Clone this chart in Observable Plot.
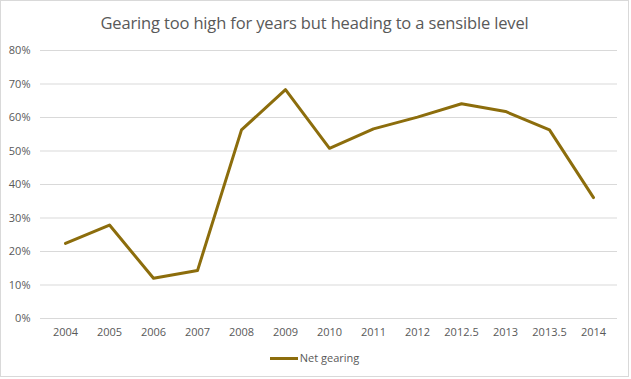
<!DOCTYPE html>
<html>
<head>
<meta charset="utf-8">
<script src="https://cdn.jsdelivr.net/npm/d3@7"></script>
<script src="https://cdn.jsdelivr.net/npm/@observablehq/plot@0.6"></script>
<style>
  html, body { margin: 0; padding: 0; background: #fff; }
  #chart {
    position: relative;
    width: 629px; height: 377px;
    border: 1px solid #d9d9d9;
    box-sizing: border-box;
    font-family: "Open Sans", "Liberation Sans", sans-serif;
    overflow: hidden;
  }
  #title {
    position: absolute; left: 0; top: 10px; width: 100%;
    text-align: center; font-size: 16.5px; color: #595959;
    font-family: "Open Sans", sans-serif; letter-spacing: -0.15px;
  }
  #plot { position: absolute; left: 0; top: 37px; }
  #legend {
    position: absolute; left: 0; top: 349px; width: 100%;
    text-align: center; font-size: 11px; color: #595959;
    font-family: "Open Sans", sans-serif;
  }
  #legend .sw { display: inline-block; width: 28px; height: 3px; background: #8C6D0C; vertical-align: middle; margin-right: 2px; position: relative; top: -1px; }
</style>
</head>
<body>
<div id="chart">
  <div id="title">Gearing too high for years but heading to a sensible level</div>
  <div id="plot"></div>
  <div id="legend"><span class="sw"></span>Net gearing</div>
</div>
<script>
const categories = ["2004","2005","2006","2007","2008","2009","2010","2011","2012","2012.5","2013","2013.5","2014"];
const netGearing = [22.4, 27.9, 12.0, 14.3, 56.3, 68.3, 50.8, 56.6, 60.1, 64.1, 61.8, 56.3, 36.1];
const yTicks = [0, 10, 20, 30, 40, 50, 60, 70, 80];

const data = categories.map((c, i) => ({cat: c, v: netGearing[i]}));

const chart = Plot.plot({
  width: 627,
  height: 302,
  marginTop: 12,
  marginBottom: 22,
  marginLeft: 39,
  marginRight: 11,
  style: { fontFamily: "'Open Sans', sans-serif", fontSize: "11px", color: "#595959", background: "transparent" },
  x: { type: "point", domain: categories, padding: 0.5, label: null },
  y: { domain: [0, 80], label: null },
  marks: [
    Plot.ruleY(yTicks, { stroke: "#d9d9d9", strokeWidth: 1 }),
    Plot.axisY({ ticks: yTicks, tickFormat: d => d + "%", tickSize: 0, tickPadding: 10, fill: "#595959", label: null }),
    Plot.axisX({ tickSize: 0, tickPadding: 10, fill: "#595959", label: null }),
    Plot.line(data, { x: "cat", y: "v", stroke: "#8C6D0C", strokeWidth: 3, strokeLinejoin: "round", strokeLinecap: "round" })
  ]
});
document.getElementById("plot").appendChild(chart);
</script>
</body>
</html>
